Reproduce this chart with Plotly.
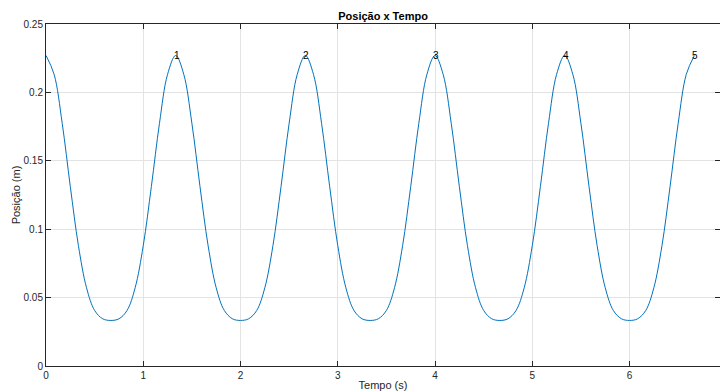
import plotly.graph_objects as go

# Sample times (s), step of 1/12 s, from 0 to 6.667 s
tempo = [i / 12 for i in range(81)]

# Position values (m), one value per sample time
posicao = [
    0.227, 0.2132, 0.1774, 0.1312, 0.088, 0.0572, 0.0406, 0.0345,
    0.0333, 0.0345, 0.0406, 0.0572, 0.088, 0.1312, 0.1774, 0.2132,
    0.227, 0.2132, 0.1774, 0.1312, 0.088, 0.0572, 0.0406, 0.0345,
    0.0333, 0.0345, 0.0406, 0.0572, 0.088, 0.1312, 0.1774, 0.2132,
    0.227, 0.2132, 0.1774, 0.1312, 0.088, 0.0572, 0.0406, 0.0345,
    0.0333, 0.0345, 0.0406, 0.0572, 0.088, 0.1312, 0.1774, 0.2132,
    0.227, 0.2132, 0.1774, 0.1312, 0.088, 0.0572, 0.0406, 0.0345,
    0.0333, 0.0345, 0.0406, 0.0572, 0.088, 0.1312, 0.1774, 0.2132,
    0.227, 0.2132, 0.1774, 0.1312, 0.088, 0.0572, 0.0406, 0.0345,
    0.0333, 0.0345, 0.0406, 0.0572, 0.088, 0.1312, 0.1774, 0.2132,
    0.227,
]

# Peak markers (labels 1..5)
pico_tempos = [1.333, 2.667, 4.0, 5.333, 6.667]
pico_valores = [0.227, 0.227, 0.227, 0.227, 0.227]
pico_rotulos = ["1", "2", "3", "4", "5"]

x_ticks = [0, 1, 2, 3, 4, 5, 6]
y_ticks = [0, 0.05, 0.1, 0.15, 0.2, 0.25]
y_ticktext = ["0", "0.05", "0.1", "0.15", "0.2", "0.25"]

FONT = "Liberation Sans, Arial, sans-serif"
AX = "#262626"
GRID = "#e3e3e3"

fig = go.Figure()
fig.add_trace(go.Scatter(
    x=tempo, y=posicao, mode="lines",
    line=dict(color="#0072BD", width=1, shape="spline", smoothing=1.0),
    showlegend=False, hoverinfo="x+y",
))

for t, v, r in zip(pico_tempos, pico_valores, pico_rotulos):
    fig.add_annotation(x=t, y=v, text=r, showarrow=False, xanchor="left",
                       yanchor="middle", xshift=-4,
                       font=dict(family=FONT, size=10, color="#000000"))

fig.update_layout(
    width=720, height=391,
    margin=dict(l=46, r=0, t=24, b=25, autoexpand=False),
    paper_bgcolor="white", plot_bgcolor="white",
    font=dict(family=FONT, size=10, color=AX),
    title=dict(text="<b>Posição x Tempo</b>", x=0.532, xanchor="center",
               y=1 - 16 / 391, yanchor="middle",
               font=dict(family=FONT, size=11, color="#000000")),
    showlegend=False,
)

fig.update_xaxes(
    range=[0, 6.93], tickvals=x_ticks, ticks="inside", ticklen=5,
    tickcolor=AX, showline=True, linecolor=AX, linewidth=1, mirror="ticks",
    showgrid=True, gridcolor=GRID, gridwidth=1, zeroline=False,
    tickfont=dict(family=FONT, size=10, color=AX),
    title=dict(text="Tempo (s)", standoff=6,
               font=dict(family=FONT, size=11, color=AX)),
    automargin=False,
)
fig.update_yaxes(
    range=[0, 0.25], tickvals=y_ticks, ticktext=y_ticktext, ticks="inside",
    ticklen=5, tickcolor=AX, showline=True, linecolor=AX, linewidth=1,
    mirror="ticks", showgrid=True, gridcolor=GRID, gridwidth=1,
    zeroline=False, tickfont=dict(family=FONT, size=10, color=AX),
    title=dict(text="Posição (m)", standoff=0,
               font=dict(family=FONT, size=11, color=AX)),
    automargin=False,
)

fig.write_html(
    "out.html",
    config={"displayModeBar": False},
    post_script="document.body.style.margin='0';"
                "document.body.style.overflow='hidden';",
)
